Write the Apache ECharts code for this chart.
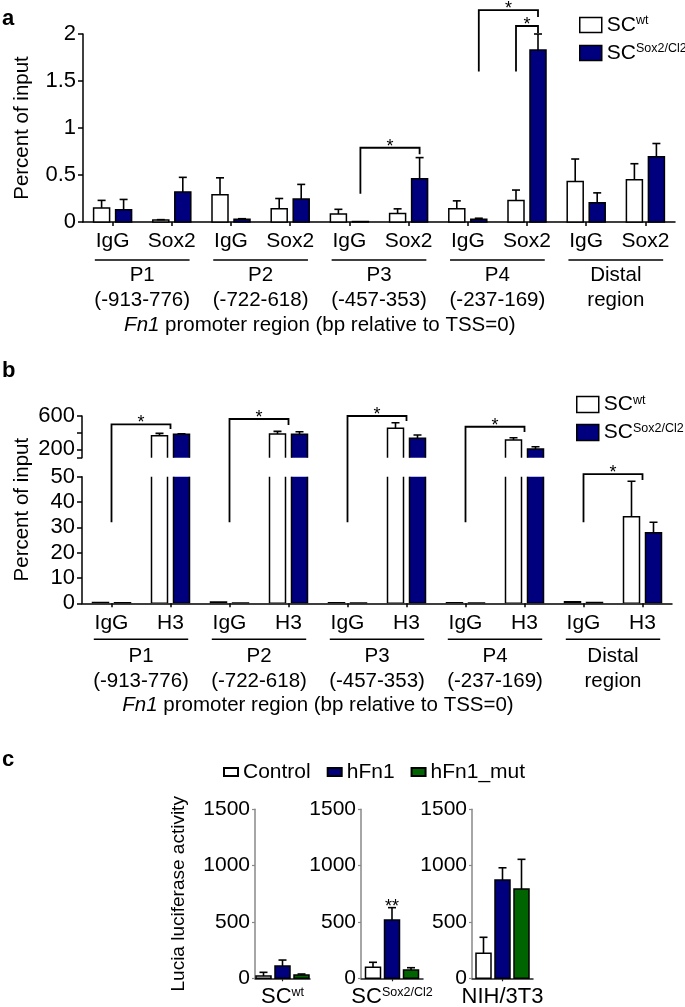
<!DOCTYPE html>
<html><head><meta charset="utf-8">
<script src="https://cdn.jsdelivr.net/npm/echarts@6/dist/echarts.min.js"></script>
<style>html,body{margin:0;padding:0;background:#fff}#c{width:685px;height:1007px}</style>
</head><body><div id="c"></div>
<script>
const FONT = '"Liberation Sans", Arial, Helvetica, sans-serif';
const NAVY = '#00007f';
const GREEN = '#006400';

// ---------- Panel a : Sox2 ChIP ----------
const catsA = ['IgG','Sox2','IgG','Sox2','IgG','Sox2','IgG','Sox2','IgG','Sox2'];
const aWt     = [0.15, 0.02, 0.29, 0.14, 0.085, 0.09, 0.14, 0.23, 0.43, 0.45];
const aWtErr  = [0.08, 0.005,0.18, 0.11, 0.05,  0.05, 0.085,0.11, 0.24, 0.17];
const aMut    = [0.13, 0.32, 0.03, 0.245,0.005, 0.46, 0.03, 1.83, 0.205,0.695];
const aMutErr = [0.11, 0.155,0.005,0.155,0,     0.225,0.01, 0.17, 0.105,0.14];

// ---------- Panel b : H3 ChIP ----------
const catsB = ['IgG','H3','IgG','H3','IgG','H3','IgG','H3','IgG','H3'];
const bWt     = [0.3, 363, 0.5, 383, 0.2, 452, 0.2, 312, 0.6, 34.2];
const bWtErr  = [0,   29,  0,   33,  0,   67,  0,   27,  0,   14];
const bMut    = [0.2, 380, 0.1, 380, 0.1, 332, 0.1, 204, 0.3, 27.9];
const bMutErr = [0,   8,   0,   31,  0,   40,  0,   27,  0,   4.1];

const groupNames = ['P1','P2','P3','P4','Distal'];
const groupSubs  = ['(-913-776)','(-722-618)','(-457-353)','(-237-169)','region'];
const seriesNames = ['SCwt','SCSox2/Cl2'];
const seriesMain = ['SC','SC'];
const seriesSup  = ['wt','Sox2/Cl2'];

// ---------- Panel c : luciferase ----------
const cCells = ['SCwt','SCSox2/Cl2','NIH/3T3'];
const cCellMain = ['SC','SC','NIH/3T3'];
const cCellSup  = ['wt','Sox2/Cl2',''];
const cNames = ['Control','hFn1','hFn1_mut'];
const cControl    = [20, 98, 222];
const cControlErr = [33, 44, 142];
const cFn1        = [109, 517, 872];
const cFn1Err     = [53, 110, 109];
const cFn1Mut     = [29, 74, 792];
const cFn1MutErr  = [9, 20, 264];

// significance brackets (values in data units)
const bracketsA = [
  {l:4, ls:1, r:5, rs:1, lo:0.30, top:0.79,  ro:0.72, mark:'*'},
  {l:6, ls:1, r:7, rs:1, lo:1.60, top:2.255, ro:2.18, mark:'*'},
  {l:7, ls:0, r:7, rs:1, lo:1.60, top:2.085, ro:2.01, mark:'*'}
];
const bracketsB = [
  {l:0, r:1, lo:32, top:500, ro:444, upper:true,  mark:'*'},
  {l:2, r:3, lo:32, top:564, ro:492, upper:true,  mark:'*'},
  {l:4, r:5, lo:32, top:600, ro:540, upper:true,  mark:'*'},
  {l:6, r:7, lo:32, top:471, ro:408, upper:true,  mark:'*'},
  {l:8, r:9, lo:32, top:51,  ro:48.7, upper:false, mark:'*'}
];

const OFF_AB = [-11, 11];
const W_AB = 16;
const OFF_C = [-19, 0, 19];
const W_C = 15;

function makeBar(offset, width, fill, capW) {
  return function (params, api) {
    const c = api.value(0), v = api.value(1), e = api.value(2);
    const p0 = api.coord([c, 0]);
    const p1 = api.coord([c, v]);
    const x = p0[0] + offset;
    const kids = [{
      type: 'rect',
      shape: {x: x - width / 2, y: Math.min(p0[1], p1[1]), width: width, height: Math.abs(p0[1] - p1[1])},
      style: {fill: fill, stroke: '#000', lineWidth: 1.5}
    }];
    if (e > 0) {
      const p2 = api.coord([c, v + e]);
      kids.push({type: 'line', shape: {x1: x, y1: p1[1], x2: x, y2: p2[1]}, style: {stroke: '#000', lineWidth: 1.6}});
      kids.push({type: 'line', shape: {x1: x - capW / 2, y1: p2[1], x2: x + capW / 2, y2: p2[1]}, style: {stroke: '#000', lineWidth: 1.6}});
    }
    return {type: 'group', children: kids};
  };
}
function triples(vals, errs) { return vals.map((v, i) => [i, v, errs[i]]); }

const supFmt = name => {
  const i = seriesNames.indexOf(name);
  return '{m|' + seriesMain[i] + '}{s|' + seriesSup[i] + '}';
};
const legendRich = {
  m: {fontSize: 21, color: '#000', fontFamily: FONT},
  s: {fontSize: 12.5, color: '#000', fontFamily: FONT, verticalAlign: 'top'}
};
const legendDataAB = [
  {name: seriesNames[0], icon: 'rect', itemStyle: {color: '#fff', borderColor: '#000', borderWidth: 1.5}},
  {name: seriesNames[1], icon: 'rect', itemStyle: {color: NAVY, borderColor: '#000', borderWidth: 1.5}}
];

function catAxis(grid, data, show) {
  return {
    gridIndex: grid, type: 'category', data: data, position: 'bottom', show: show,
    axisLine: {show: true, lineStyle: {color: '#000', width: 1.5}},
    axisTick: {show: true, alignWithLabel: true, length: 4, lineStyle: {color: '#000', width: 1.5}},
    axisLabel: {interval: 0, color: '#000', fontSize: 21, margin: 9, fontFamily: FONT},
    splitLine: {show: false}
  };
}
function groupAxis(grid) {
  return {
    gridIndex: grid, type: 'category', data: groupNames, position: 'bottom',
    axisLine: {show: false}, axisTick: {show: false}, splitLine: {show: false},
    axisLabel: {
      interval: 0, margin: 41,
      formatter: (v, i) => '{p|' + groupNames[i] + '}\n{p|' + groupSubs[i] + '}',
      rich: {p: {fontSize: 20.5, lineHeight: 25, color: '#000', fontFamily: FONT}}
    }
  };
}
function valAxis(grid, extra) {
  return Object.assign({
    gridIndex: grid, type: 'value',
    axisLine: {show: true, lineStyle: {color: '#000', width: 1.5}},
    axisTick: {show: true, length: 5, lineStyle: {color: '#000', width: 1.5}},
    axisLabel: {color: '#000', fontSize: 22, margin: 7, fontFamily: FONT},
    splitLine: {show: false}
  }, extra);
}
function cXAxis(grid, i) {
  return {
    gridIndex: grid, type: 'category', data: [cCells[i]], position: 'bottom',
    axisLine: {show: true, lineStyle: {color: '#222', width: 1.5}},
    axisTick: {show: true, alignWithLabel: true, length: 3, lineStyle: {color: '#222', width: 1.2}},
    axisLabel: {
      interval: 0, margin: 8,
      formatter: () => '{m|' + cCellMain[i] + '}' + (cCellSup[i] ? '{s|' + cCellSup[i] + '}' : ''),
      rich: {
        m: {fontSize: 22, color: '#000', fontFamily: FONT},
        s: {fontSize: 12.5, color: '#000', fontFamily: FONT, verticalAlign: 'top'}
      }
    },
    splitLine: {show: false}
  };
}
function cYAxis(grid, extra) {
  return Object.assign({
    gridIndex: grid, type: 'value', min: 0, max: 1500, interval: 500,
    axisLine: {show: true, lineStyle: {color: '#888', width: 1.5}},
    axisTick: {show: true, length: 3, lineStyle: {color: '#888', width: 1.2}},
    axisLabel: {color: '#000', fontSize: 21, margin: 5, fontFamily: FONT, formatter: v => String(v)},
    splitLine: {show: false}
  }, extra);
}

const series = [];
// panel a
series.push({type: 'custom', name: seriesNames[0], xAxisIndex: 0, yAxisIndex: 0, encode: {x: 0, y: 1},
  renderItem: makeBar(OFF_AB[0], W_AB, '#fff', 8), data: triples(aWt, aWtErr), silent: true});
series.push({type: 'custom', name: seriesNames[1], xAxisIndex: 0, yAxisIndex: 0, encode: {x: 0, y: 1},
  renderItem: makeBar(OFF_AB[1], W_AB, NAVY, 8), data: triples(aMut, aMutErr), silent: true});
// panel b upper & lower (broken axis)
[[2, 1], [3, 2]].forEach(([xi, yi]) => {
  series.push({type: 'custom', name: seriesNames[0], xAxisIndex: xi, yAxisIndex: yi, encode: {x: 0, y: 1}, clip: true,
    renderItem: makeBar(OFF_AB[0], W_AB, '#fff', 8), data: triples(bWt, bWtErr), silent: true});
  series.push({type: 'custom', name: seriesNames[1], xAxisIndex: xi, yAxisIndex: yi, encode: {x: 0, y: 1}, clip: true,
    renderItem: makeBar(OFF_AB[1], W_AB, NAVY, 8), data: triples(bMut, bMutErr), silent: true});
});
// panel c
const cVals = [cControl, cFn1, cFn1Mut];
const cErrs = [cControlErr, cFn1Err, cFn1MutErr];
const cFills = ['#fff', NAVY, GREEN];
for (let g = 0; g < 3; g++) {
  for (let s = 0; s < 3; s++) {
    series.push({type: 'custom', name: cNames[s], xAxisIndex: 5 + g, yAxisIndex: 3 + g, encode: {x: 0, y: 1},
      renderItem: makeBar(OFF_C[s], W_C, cFills[s], 8), data: [[0, cVals[s][g], cErrs[s][g]]], silent: true});
  }
}

const option = {
  animation: false,
  backgroundColor: '#fff',
  textStyle: {fontFamily: FONT},
  grid: [
    {left: 83, top: 34, width: 592, height: 188, outerBoundsMode: 'none'},
    {left: 82, top: 416, width: 590, height: 41.7, outerBoundsMode: 'none'},
    {left: 82, top: 476.7, width: 590, height: 126.6, outerBoundsMode: 'none'},
    {left: 255, top: 809.3, width: 55, height: 169, outerBoundsMode: 'none'},
    {left: 361, top: 809.3, width: 62, height: 169, outerBoundsMode: 'none'},
    {left: 472, top: 809.3, width: 61, height: 169, outerBoundsMode: 'none'}
  ],
  xAxis: [
    catAxis(0, catsA, true),
    groupAxis(0),
    catAxis(1, catsB, false),
    catAxis(2, catsB, true),
    groupAxis(2),
    cXAxis(3, 0), cXAxis(4, 1), cXAxis(5, 2)
  ],
  yAxis: [
    valAxis(0, {min: 0, max: 2, interval: 0.5, name: 'Percent of input', nameLocation: 'middle', nameGap: 50,
      nameTextStyle: {fontSize: 20.5, color: '#000', fontFamily: FONT}}),
    valAxis(1, {min: 100, max: 600, axisTick: {show: true, length: 5, customValues: [100, 200, 400, 600], lineStyle: {color: '#000', width: 1.5}},
      axisLabel: {color: '#000', fontSize: 22, margin: 7, fontFamily: FONT, customValues: [200, 600]}}),
    valAxis(2, {min: 0, max: 50, interval: 10}),
    cYAxis(3, {name: 'Lucia luciferase activity', nameLocation: 'middle', nameGap: 67,
      nameTextStyle: {fontSize: 19, color: '#000', fontFamily: FONT}}),
    cYAxis(4, {}), cYAxis(5, {})
  ],
  legend: [
    {left: 579, top: 14.5, padding: 0, orient: 'vertical', itemWidth: 22, itemHeight: 15, itemGap: 7,
      selectedMode: false, data: legendDataAB, formatter: supFmt, textStyle: {fontSize: 21, color: '#000', rich: legendRich}},
    {left: 576, top: 394, padding: 0, orient: 'vertical', itemWidth: 22, itemHeight: 16, itemGap: 7,
      selectedMode: false, data: legendDataAB, formatter: supFmt, textStyle: {fontSize: 21, color: '#000', rich: legendRich}},
    {left: 223, top: 761.5, padding: 0, orient: 'horizontal', itemWidth: 14, itemHeight: 8, itemGap: 16,
      selectedMode: false, textStyle: {fontSize: 21, color: '#000', fontFamily: FONT},
      data: cNames.map((n, i) => ({name: n, icon: 'rect', itemStyle: {color: cFills[i], borderColor: '#000', borderWidth: 2}}))}
  ],
  series: series
};

const chart = echarts.init(document.getElementById('c'), null, {renderer: 'canvas', width: 685, height: 1007});
chart.setOption(option);

// ---------- annotations placed through the chart's own scales ----------
function px(xi, yi, c, v) { return chart.convertToPixel({xAxisIndex: xi, yAxisIndex: yi}, [c, v]); }
const G = [];
const LS = {fill: null, stroke: '#000', lineWidth: 1.8};
function star(x, y, t) {
  G.push({type: 'text', x: x, y: y - 1, silent: true,
    style: {text: t, fontSize: 18, fontFamily: FONT, fill: '#000', align: 'center', verticalAlign: 'middle'}});
}
bracketsA.forEach(b => {
  const xl = px(0, 0, b.l, 0)[0] + OFF_AB[b.ls];
  const xr = px(0, 0, b.r, 0)[0] + OFF_AB[b.rs];
  const yl = px(0, 0, b.l, b.lo)[1], yt = px(0, 0, b.l, b.top)[1], yr = px(0, 0, b.r, b.ro)[1];
  G.push({type: 'polyline', silent: true, shape: {points: [[xl, yl], [xl, yt], [xr, yt], [xr, yr]]}, style: LS});
  star((xl + xr) / 2, yt, b.mark);
});
bracketsB.forEach(b => {
  const xl = px(3, 2, b.l, 0)[0], xr = px(3, 2, b.r, 0)[0];
  const yl = px(3, 2, b.l, b.lo)[1];
  const yt = b.upper ? px(2, 1, b.l, b.top)[1] : px(3, 2, b.l, b.top)[1];
  const yr = b.upper ? px(2, 1, b.r, b.ro)[1] : px(3, 2, b.r, b.ro)[1];
  G.push({type: 'polyline', silent: true, shape: {points: [[xl, yl], [xl, yt], [xr, yt], [xr, yr]]}, style: LS});
  star((xl + xr) / 2, yt, b.mark);
});
// ** on SC Sox2/Cl2 hFn1
{
  const p = px(6, 4, 0, cFn1[1] + cFn1Err[1]);
  star(p[0] + OFF_C[1], p[1], '**');
}
// group underlines & x titles
[[1, 0, 38, 103], [4, 2, 36, 102]].forEach(([xi, yi, ul, pt]) => {
  const y0 = px(xi, yi, 0, 0)[1];
  const bw = px(xi, yi, 1, 0)[0] - px(xi, yi, 0, 0)[0];
  groupNames.forEach((g, i) => {
    const cx = px(xi, yi, i, 0)[0];
    G.push({type: 'line', silent: true, shape: {x1: cx - 0.4 * bw, y1: y0 + ul, x2: cx + 0.4 * bw, y2: y0 + ul},
      style: {stroke: '#000', lineWidth: 1.5}});
  });
  const cx = (px(xi, yi, 0, 0)[0] + px(xi, yi, 3, 0)[0]) / 2;
  G.push({type: 'text', x: cx, y: y0 + pt, silent: true, style: {
    text: '{i|Fn1} promoter region (bp relative to TSS=0)',
    rich: {i: {fontStyle: 'italic', fontSize: 20.5, fontFamily: FONT, fill: '#000'}},
    fontSize: 20.5, fontFamily: FONT, fill: '#000', align: 'center', verticalAlign: 'middle'}});
});
// panel b y title (spans both axis segments)
{
  const yTop = px(2, 1, 0, 600)[1], yBot = px(3, 2, 0, 0)[1];
  G.push({type: 'text', x: 22, y: (yTop + yBot) / 2, rotation: Math.PI / 2, silent: true,
    style: {text: 'Percent of input', fontSize: 20.5, fontFamily: FONT, fill: '#000', align: 'center', verticalAlign: 'middle'}});
}
// panel letters
[['a', 29.5], ['b', 381.5], ['c', 771]].forEach(([t, y]) => {
  G.push({type: 'text', x: 2, y: y, silent: true,
    style: {text: t, fontSize: 22, fontWeight: 'bold', fontFamily: FONT, fill: '#000', align: 'left', verticalAlign: 'bottom'}});
});
chart.setOption({graphic: G});
</script></body></html>
